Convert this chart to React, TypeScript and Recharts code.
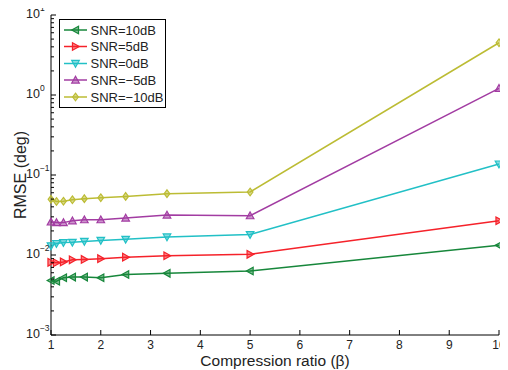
import React from 'react';
import { LineChart, Line, XAxis, YAxis, Legend, Label } from 'recharts';

const betas = [1, 1.11, 1.25, 1.43, 1.67, 2, 2.5, 3.33, 5, 10];
const snr10 = [0.0048, 0.0047, 0.0052, 0.0053, 0.0053, 0.0052, 0.0057, 0.0059, 0.0063, 0.0132];
const snr5 = [0.0081, 0.008, 0.0082, 0.0087, 0.0088, 0.009, 0.0094, 0.0098, 0.0102, 0.0268];
const snr0 = [0.013, 0.0139, 0.0143, 0.0144, 0.0148, 0.0152, 0.0157, 0.0168, 0.018, 0.137];
const snrm5 = [0.0259, 0.0254, 0.0254, 0.0268, 0.0276, 0.0276, 0.029, 0.0316, 0.031, 1.21];
const snrm10 = [0.0497, 0.0467, 0.047, 0.049, 0.0506, 0.052, 0.054, 0.0585, 0.0613, 4.5];

const xTicks = [1, 2, 3, 4, 5, 6, 7, 8, 9, 10];
const yExponents = [-3, -2, -1, 0, 1];
const yTicks: number[] = [];
yExponents.forEach((e) => {
  if (e === 1) { yTicks.push(10); return; }
  for (let m = 1; m <= 9; m++) yTicks.push(m * Math.pow(10, e));
});

const FONT = '"Liberation Sans", Arial, Helvetica, sans-serif';

type Kind = 'left' | 'right' | 'down' | 'up' | 'diamond';
const series: { key: string; name: string; values: number[]; color: string; marker: Kind }[] = [
  { key: 's10', name: 'SNR=10dB', values: snr10, color: '#17873b', marker: 'left' },
  { key: 's5', name: 'SNR=5dB', values: snr5, color: '#f5222a', marker: 'right' },
  { key: 's0', name: 'SNR=0dB', values: snr0, color: '#22c0c6', marker: 'down' },
  { key: 'sm5', name: 'SNR=\u22125dB', values: snrm5, color: '#a23ca2', marker: 'up' },
  { key: 'sm10', name: 'SNR=\u221210dB', values: snrm10, color: '#bcbc34', marker: 'diamond' },
];

const data = betas.map((b, i) => {
  const row: any = { beta: b };
  series.forEach((s) => { row[s.key] = s.values[i]; });
  return row;
});

function markerPath(kind: Kind, cx: number, cy: number, r: number) {
  switch (kind) {
    case 'left': return `M${cx - r},${cy} L${cx + r * 0.8},${cy - r} L${cx + r * 0.8},${cy + r} Z`;
    case 'right': return `M${cx + r},${cy} L${cx - r * 0.8},${cy - r} L${cx - r * 0.8},${cy + r} Z`;
    case 'down': return `M${cx},${cy + r} L${cx - r},${cy - r * 0.8} L${cx + r},${cy - r * 0.8} Z`;
    case 'up': return `M${cx},${cy - r} L${cx - r},${cy + r * 0.8} L${cx + r},${cy + r * 0.8} Z`;
    default: return `M${cx},${cy - r} L${cx + r * 0.75},${cy} L${cx},${cy + r} L${cx - r * 0.75},${cy} Z`;
  }
}

const isMajor = (v: number) => {
  const l = Math.log10(v);
  return Math.abs(l - Math.round(l)) < 1e-6;
};

const BottomTick = (p: any) => {
  const { x, y, payload } = p;
  return (
    <g>
      <line x1={x} y1={y} x2={x} y2={y - 5} stroke="#000" strokeWidth={1} />
      <text x={x} y={y + 14} textAnchor="middle" fontSize={12} fontFamily={FONT} fill="#222">{payload.value}</text>
    </g>
  );
};
const TopTick = (p: any) => {
  const { x, y } = p;
  return <line x1={x} y1={y} x2={x} y2={y + 5} stroke="#000" strokeWidth={1} />;
};
const LeftTick = (p: any) => {
  const { x, y, payload } = p;
  const major = isMajor(payload.value);
  const len = major ? 5 : 3;
  const exp = Math.round(Math.log10(payload.value));
  return (
    <g>
      <line x1={x} y1={y} x2={x + len} y2={y} stroke="#000" strokeWidth={1} />
      {major && (
        <text x={x - 25} y={y + 3} fontSize={12.5} fontFamily={FONT} fill="#222">
          10
          <tspan dy={-7.5} fontSize={8.5}>{exp < 0 ? '\u2212' + Math.abs(exp) : String(exp)}</tspan>
        </text>
      )}
    </g>
  );
};
const RightTick = (p: any) => {
  const { x, y, payload } = p;
  const len = isMajor(payload.value) ? 5 : 3;
  return <line x1={x} y1={y} x2={x - len} y2={y} stroke="#000" strokeWidth={1} />;
};

const LegendBox = () => {
  const rowY = [11, 27.5, 44.5, 61, 78];
  return (
    <svg width={107} height={89} style={{ display: 'block' }}>
      <rect x={0.5} y={0.5} width={106} height={88} fill="#fff" stroke="#000" strokeWidth={1} />
      {series.map((s, i) => (
        <g key={s.key}>
          <line x1={5} y1={rowY[i]} x2={28} y2={rowY[i]} stroke={s.color} strokeWidth={1.5} />
          <path d={markerPath(s.marker, 16.5, rowY[i], 3.8)} fill={s.color} fillOpacity={0.55} stroke={s.color} strokeWidth={1.2} />
          <text x={31.5} y={rowY[i] + 4.5} fontSize={13} fontFamily={FONT} fill="#222">{s.name}</text>
        </g>
      ))}
    </svg>
  );
};

export default function App() {
  return (
    <div style={{ width: 508, height: 370, margin: '-8px 0 0 -8px', fontFamily: FONT }}>
      <LineChart width={508} height={370} data={data} margin={{ top: 15, right: 9, bottom: 0, left: 0 }}>
        <XAxis dataKey="beta" type="number" domain={[1, 10]} ticks={xTicks} tickSize={0} tickMargin={0}
          tickLine={false} axisLine={{ stroke: '#000', strokeWidth: 1 }} height={35} tick={<BottomTick />} interval={0}>
          <Label content={(p: any) => {
            const vb = p.viewBox;
            return (
              <text x={vb.x + vb.width / 2} y={vb.y + 31} textAnchor="middle" fontSize={15.5} fontFamily={FONT} fill="#222">
                Compression ratio (β)
              </text>
            );
          }} />
        </XAxis>
        <XAxis xAxisId="top" orientation="top" dataKey="beta" type="number" domain={[1, 10]} ticks={xTicks}
          tickSize={0} tickMargin={0} tickLine={false} axisLine={{ stroke: '#000', strokeWidth: 1 }} height={0}
          tick={<TopTick />} interval={0} />
        <YAxis type="number" scale="log" domain={[0.001, 10]} ticks={yTicks} width={51} tickSize={0} tickMargin={0}
          tickLine={false} axisLine={{ stroke: '#000', strokeWidth: 1 }} tick={<LeftTick />} interval={0}>
          <Label content={(p: any) => {
            const vb = p.viewBox;
            const cx = 20;
            const cy = vb.y + vb.height / 2;
            return (
              <text x={cx} y={cy} textAnchor="middle" dominantBaseline="central" transform={`rotate(-90 ${cx} ${cy})`}
                fontSize={16} fontFamily={FONT} fill="#222">RMSE (deg)</text>
            );
          }} />
        </YAxis>
        <YAxis yAxisId="right" orientation="right" type="number" scale="log" domain={[0.001, 10]} ticks={yTicks}
          width={0} tickSize={0} tickMargin={0} tickLine={false} axisLine={{ stroke: '#000', strokeWidth: 1 }}
          tick={<RightTick />} interval={0} />
        {series.map((s) => (
          <Line key={s.key} dataKey={s.key} name={s.name} type="linear" stroke={s.color} strokeWidth={1.5}
            isAnimationActive={false}
            dot={(p: any) => (
              <path key={`${s.key}-${p.index}`} d={markerPath(s.marker, p.cx, p.cy, 3.8)} fill={s.color}
                fillOpacity={0.55} stroke={s.color} strokeWidth={1.2} />
            )} />
        ))}
        <Legend layout="vertical" align="center" verticalAlign="middle" content={() => <LegendBox />}
          wrapperStyle={{ position: 'absolute', left: 59, top: 19, width: 107, height: 89 }} />
      </LineChart>
    </div>
  );
}
